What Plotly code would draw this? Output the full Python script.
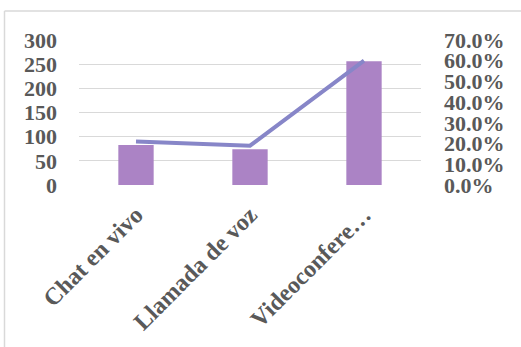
import plotly.graph_objects as go

categories = ["Chat en vivo", "Llamada de voz", "Videoconfere…"]
counts = [83, 74, 256]
shares = [0.21, 0.19, 0.60]

W, H = 521, 347
ml, mr, mt, mb = 79, 100, 40, 162
pw = W - ml - mr
ph = H - mt - mb

tf = dict(family="Liberation Serif", size=22, color="#595959", weight="bold")
xf = dict(family="Liberation Serif", size=24, color="#595959", weight="bold")

fig = go.Figure()
fig.add_trace(go.Bar(x=categories, y=counts, marker=dict(color="#ab83c5", line=dict(width=0)),
                     width=0.31, yaxis="y"))
fig.add_trace(go.Scatter(x=categories, y=shares, mode="lines",
                         line=dict(color="#8786c8", width=4), yaxis="y2"))

# chart-area border (left + top), like the cropped Excel frame
x0 = (4.5 - ml) / pw
ytop = (H - mb - 11) / ph
ybot = (H - mb - H) / ph
fig.add_shape(type="line", xref="paper", yref="paper", x0=x0, x1=(W - ml) / pw, y0=ytop, y1=ytop,
              line=dict(color="#d9d9d9", width=1.5))
fig.add_shape(type="line", xref="paper", yref="paper", x0=x0, x1=x0, y0=ytop, y1=ybot,
              line=dict(color="#d9d9d9", width=1.5))

fig.update_layout(
    width=W, height=H,
    margin=dict(l=ml, r=mr, t=mt, b=mb, pad=0),
    paper_bgcolor="white", plot_bgcolor="white",
    showlegend=False,
    font=dict(family="Liberation Serif", color="#595959"),
    xaxis=dict(tickangle=-45, tickfont=xf, ticklabelstandoff=10,
               showgrid=False, zeroline=False, showline=False, ticks=""),
    yaxis=dict(range=[0, 300], dtick=50, showgrid=True, gridcolor="#d9d9d9", gridwidth=1,
               zeroline=False, showline=False, ticks="", ticklabelstandoff=21, tickfont=tf),
    yaxis2=dict(range=[0, 0.7], dtick=0.1, tickformat=".1%", overlaying="y", side="right",
                showgrid=False, zeroline=False, showline=False, ticks="", ticklabelstandoff=22,
                tickfont=tf),
)

fig.write_html("out.html")
